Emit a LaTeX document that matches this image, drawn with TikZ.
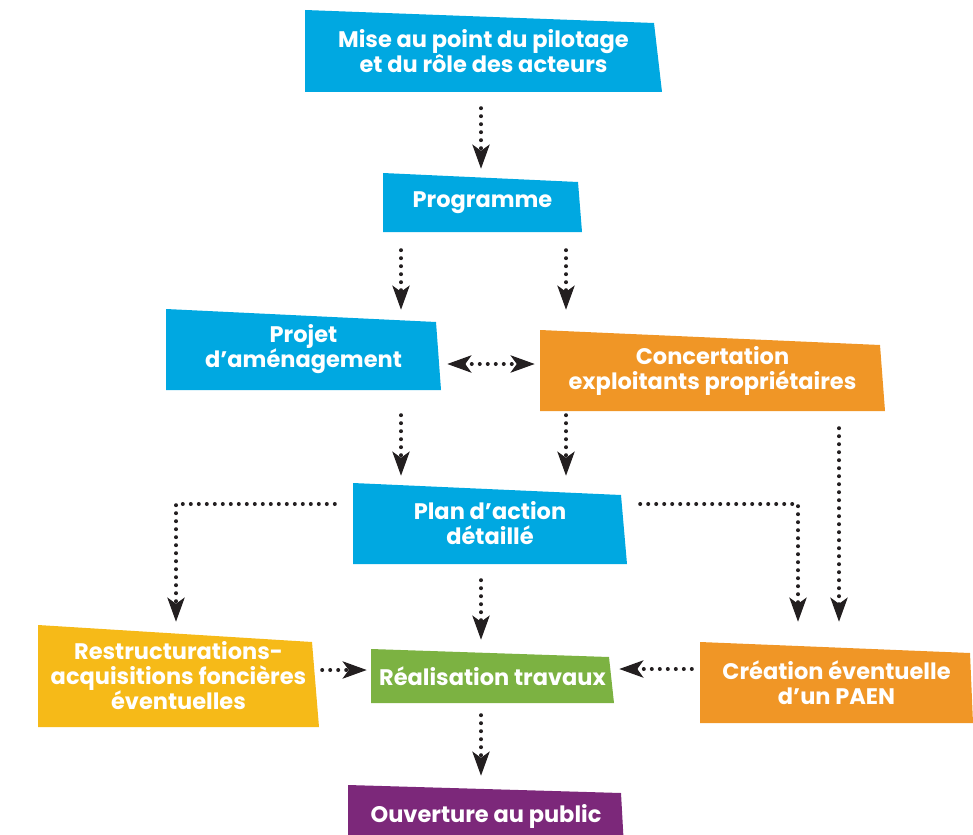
\documentclass[tikz,border=0pt]{standalone}
\usepackage{fontspec}
\setmainfont{Poppins}
\usetikzlibrary{arrows.meta}

\definecolor{bleu}{RGB}{0,168,225}
\definecolor{orange}{RGB}{240,150,38}
\definecolor{jaune}{RGB}{246,186,24}
\definecolor{vert}{RGB}{124,178,66}
\definecolor{violet}{RGB}{124,40,122}
\definecolor{noir}{RGB}{35,31,32}

\tikzset{
  etape/.style n args={3}{inner sep=0pt, align=center, text=white,
    font=\bfseries\fontsize{22.5}{25}\selectfont,
    path picture={\fill[#1] (path picture bounding box.north west)
      -- ([xshift=-#3pt,yshift=-#2pt]path picture bounding box.north east)
      -- (path picture bounding box.south east)
      -- (path picture bounding box.south west) -- cycle;}},
  fleche/.style={noir, line width=4pt, line cap=round, dash pattern=on 0pt off 8pt,
    -{Stealth[length=24pt,width=17pt,inset=6pt]}},
  double fleche/.style={fleche,
    {Stealth[length=24pt,width=17pt,inset=6pt]}-{Stealth[length=24pt,width=17pt,inset=6pt]}},
}

\begin{document}
\begin{tikzpicture}[x=1pt,y=-1pt]
  \useasboundingbox (0,0) rectangle (973,834);

  % les etapes
  \node[etape={bleu}{13}{8}, minimum width=357pt, minimum height=82pt] (mise) at (483.5,51)
    {Mise au point du pilotage\\et du rôle des acteurs};
  \node[etape={bleu}{9}{4}, minimum width=199pt, minimum height=59pt] (prog) at (482.5,202.5)
    {Programme};
  \node[etape={bleu}{13}{5}, minimum width=275pt, minimum height=81pt] (projet) at (303.5,349.5)
    {Projet\\d’aménagement};
  \node[etape={orange}{15}{5}, minimum width=345pt, minimum height=81pt] (concert) at (712.5,370.5)
    {Concertation\\exploitants propriétaires};
  \node[etape={bleu}{12}{6}, minimum width=274pt, minimum height=81pt] (plan) at (490,523.5)
    {Plan d’action\\détaillé};
  \node[etape={jaune}{17}{7}, minimum width=281pt, minimum height=102pt] (restr) at (178.5,676)
    {Restructurations-\\acquisitions foncières\\éventuelles};
  \node[etape={vert}{8}{5}, minimum width=243pt, minimum height=54pt] (real) at (492.5,676)
    {Réalisation travaux};
  \node[etape={orange}{11}{3}, minimum width=273pt, minimum height=81pt] (creat) at (836.5,682.5)
    {Création éventuelle\\d’un PAEN};
  \node[etape={violet}{8}{3}, minimum width=276pt, minimum height=62pt] (ouv) at (486,816)
    {Ouverture au public};

  % les liens
  \draw[fleche] ([xshift=-2.5pt,yshift=-16pt]mise.south) -- ([xshift=-1.5pt,yshift=4pt]prog.north);
  \draw[fleche] ([xshift=-81.5pt,yshift=-18pt]prog.south) -- ([xshift=97.5pt,yshift=-1pt]projet.north);
  \draw[fleche] ([xshift=83.5pt,yshift=-18pt]prog.south) -- ([xshift=-146.5pt,yshift=20pt]concert.north);
  \draw[double fleche] ([xshift=6pt,yshift=-14.5pt]projet.east) -- ([xshift=-5pt,yshift=6.5pt]concert.west);
  \draw[fleche] ([xshift=97.5pt,yshift=-25pt]projet.south) -- ([xshift=-89pt,yshift=7pt]plan.north);
  \draw[fleche] ([xshift=-146.5pt,yshift=-4pt]concert.south) -- ([xshift=76pt,yshift=7pt]plan.north);
  \draw[fleche] ([xshift=126.5pt,yshift=-17pt]concert.south) -- ([xshift=2.5pt,yshift=20pt]creat.north);
  \draw[fleche] ([xshift=-18pt,yshift=19.5pt]plan.west) -| ([xshift=-2.5pt,yshift=3pt]restr.north);
  \draw[fleche] ([xshift=13pt,yshift=19.5pt]plan.east) -| ([xshift=-38.5pt,yshift=20pt]creat.north);
  \draw[fleche] ([xshift=-9pt,yshift=-16pt]plan.south) -- ([xshift=-11.5pt,yshift=9pt]real.north);
  \draw[fleche] ([xshift=3pt,yshift=6pt]restr.east) -- ([xshift=-4pt,yshift=6pt]real.west);
  \draw[fleche] ([xshift=-8pt,yshift=13.5pt]creat.west) -- ([xshift=5pt,yshift=7pt]real.east);
  \draw[fleche] ([xshift=-11.5pt,yshift=-12pt]real.south) -- ([xshift=-5pt,yshift=9pt]ouv.north);
\end{tikzpicture}
\end{document}
